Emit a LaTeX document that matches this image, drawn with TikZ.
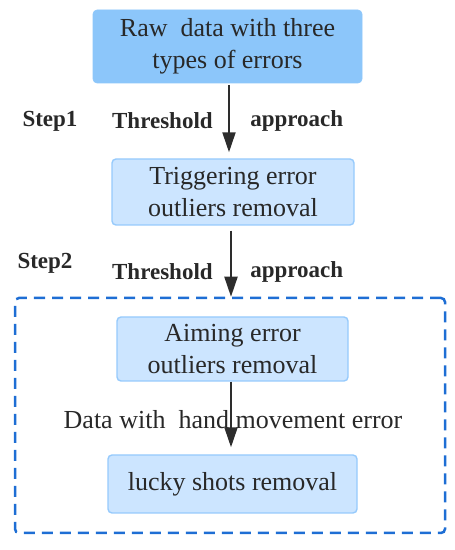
\documentclass[tikz,border=0pt]{standalone}
\usepackage{fontspec}
\setmainfont{Liberation Serif}
\usetikzlibrary{arrows.meta}
\usetikzlibrary{positioning}
\definecolor{rawblue}{RGB}{140,198,250}
\definecolor{boxfill}{RGB}{204,229,255}
\definecolor{boxline}{RGB}{150,202,252}
\definecolor{framblue}{RGB}{30,110,212}
\definecolor{arr}{RGB}{45,45,45}
\definecolor{ink}{RGB}{40,40,40}

\begin{document}
\begin{tikzpicture}[x=1pt, y=1pt, line width=0.6pt,
        rawbox/.style={fill=rawblue,draw=rawblue,rounded corners=4pt,align=center,
          font=\fontsize{26}{32}\selectfont,text=ink,inner sep=0pt},
        stepbox/.style={fill=boxfill,draw=boxline,line width=1.4pt,rounded corners=4pt,
          align=center,font=\fontsize{26}{32}\selectfont,text=ink,inner sep=0pt},
        flow/.style={arr,line width=2pt,-{Triangle[width=13pt,length=20pt]}},
        lbl/.style={font=\fontsize{23}{26}\selectfont\bfseries,text=ink,inner sep=0pt},
        txt/.style={font=\fontsize{26}{30}\selectfont,text=ink,inner sep=0pt}]
      \useasboundingbox (0,0) rectangle (455,550);
      % outer dashed frame round step 2
      \node[draw=framblue,line width=2.5pt,dash pattern=on 11pt off 7pt,rounded corners=4pt,
        minimum width=430pt,minimum height=235pt] (frame) at (230,134.5) {};
      \node[rawbox,minimum width=269pt,minimum height=73pt] (raw) at (227.5,503.5)
        {Raw\ \ data with three\\types of errors};
      \node[stepbox,minimum width=242pt,minimum height=66pt] (trig) at (233,358)
        {Triggering error\\outliers removal};
      \node[stepbox,minimum width=231pt,minimum height=64pt] (aim) at (232.5,201)
        {Aiming error\\outliers removal};
      \node[stepbox,minimum width=249pt,minimum height=58pt] (lucky) at (232.5,66)
        {lucky shots removal};
      \draw[flow,shorten <=2pt,shorten >=6pt] (raw.south -| 229,0) -- (trig.north -| 229,0);
      \draw[flow,shorten <=5pt] (trig.south -| 231,0) -- (frame.north -| 231,0);
      \draw[flow,shorten >=7pt] (aim.south -| 231,0) -- (lucky.north -| 231,0);
      % step labels
      \node[lbl] (s1) at (50,429) {Step1};
      \node[lbl,anchor=east] (th1) at (213,429) {Threshold};
      \node[lbl,anchor=west] (ap1) at (250,429) {approach};
      \node[lbl] (s2) at (45,287) {Step2};
      \node[lbl,anchor=east] (th2) at (213,278) {Threshold};
      \node[lbl,anchor=west] (ap2) at (250,278) {approach};
      \node[txt] (hand) at (233,130) {Data with\ \ hand movement error};
    \end{tikzpicture}
\end{document}
